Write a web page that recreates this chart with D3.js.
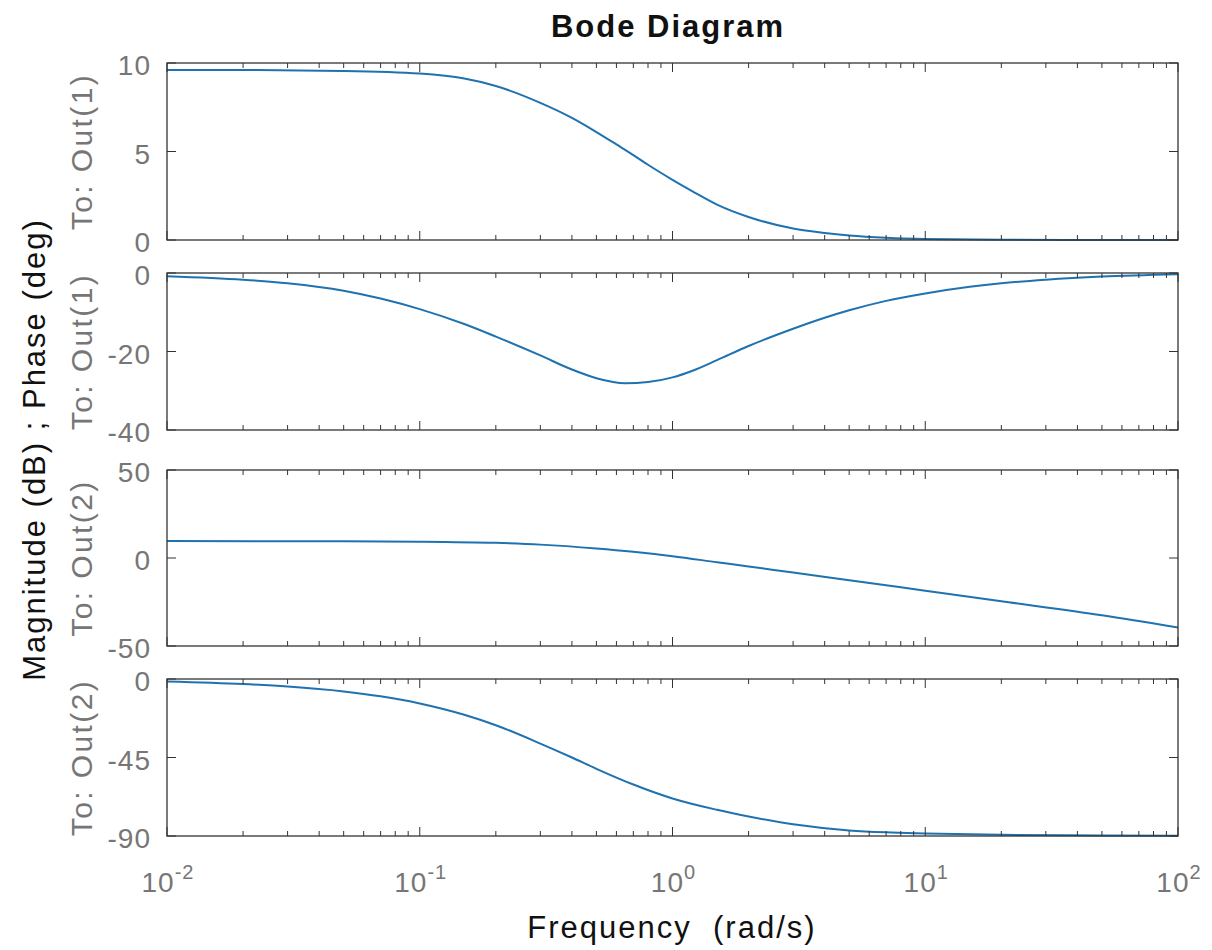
<!DOCTYPE html>
<html>
<head>
<meta charset="utf-8">
<script src="https://cdn.jsdelivr.net/npm/d3@7"></script>
<style>
  body { margin: 0; background: #fff; }
  svg { font-family: "Liberation Sans", Arial, sans-serif; }
</style>
</head>
<body>
<svg id="chart" width="1212" height="950"></svg>
<script>
// frequencies (rad/s) and values
const freqMag1 = [0.01, 0.02, 0.05, 0.1, 0.15, 0.2, 0.3, 0.4, 0.5, 0.6, 0.7, 0.8, 1.0, 1.2, 1.5, 2, 3, 4, 5, 7, 10, 20, 50, 100];
const mag1     = [9.6, 9.6, 9.55, 9.4, 9.12, 8.7, 7.75, 6.9, 6.1, 5.4, 4.8, 4.25, 3.4, 2.75, 2.0, 1.3, 0.65, 0.4, 0.26, 0.13, 0.06, 0.02, 0.0, 0.0];

const freqPh1 = [0.01, 0.02, 0.03, 0.05, 0.07, 0.1, 0.15, 0.2, 0.3, 0.4, 0.5, 0.65, 0.8, 1.0, 1.2, 1.5, 2, 3, 4, 5, 7, 10, 15, 20, 30, 50, 100];
const phase1  = [-0.8, -1.7, -2.6, -4.5, -6.5, -9.2, -13.0, -16.2, -21.0, -24.6, -26.8, -28.1, -27.8, -26.6, -24.9, -22.2, -18.6, -14.2, -11.4, -9.5, -7.1, -5.2, -3.5, -2.6, -1.7, -0.9, -0.3];

const freqMag2 = [0.01, 0.05, 0.1, 0.2, 0.3, 0.5, 0.7, 1.0, 1.5, 2, 3, 5, 10, 20, 50, 100];
const mag2     = [9.6, 9.5, 9.3, 8.6, 7.6, 5.4, 3.5, 1.0, -2.4, -4.8, -8.3, -12.6, -18.6, -24.6, -32.5, -39.5];

const freqPh2 = [0.01, 0.02, 0.03, 0.05, 0.07, 0.1, 0.15, 0.2, 0.3, 0.4, 0.5, 0.7, 1.0, 1.5, 2, 3, 5, 7, 10, 20, 50, 100];
const phase2  = [-1.4, -2.9, -4.3, -7.1, -9.9, -14, -20.5, -26.5, -37, -45, -51.5, -60.5, -68.5, -75.0, -78.8, -83.3, -86.8, -87.9, -88.5, -89.3, -89.7, -89.85];

const xTickExps = [-2, -1, 0, 1, 2];

const panels = [
  { freq: freqMag1, vals: mag1,   domain: [0, 10],    ticks: [0, 5, 10],     label: "To: Out(1)", top: 63,  bottom: 240 },
  { freq: freqPh1,  vals: phase1, domain: [-40, 0],   ticks: [-40, -20, 0],  label: "To: Out(1)", top: 273, bottom: 430 },
  { freq: freqMag2, vals: mag2,   domain: [-50, 50],  ticks: [-50, 0, 50],   label: "To: Out(2)", top: 470, bottom: 646 },
  { freq: freqPh2,  vals: phase2, domain: [-90, 0],   ticks: [-90, -45, 0],  label: "To: Out(2)", top: 679, bottom: 836 }
];

const left = 167, right = 1178;
const axisColor = "#333", labelColor = "#767676", lineColor = "#1f72b0";

const svg = d3.select("#chart");
const x = d3.scaleLog().domain([0.01, 100]).range([left, right]);

// major + minor tick values on the log axis
const minorTicks = [];
for (let e = -2; e < 2; e++) {
  for (let m = 2; m <= 9; m++) minorTicks.push(m * Math.pow(10, e));
}
const majorTicks = xTickExps.map(e => Math.pow(10, e));

panels.forEach((p, i) => {
  const y = d3.scaleLinear().domain(p.domain).range([p.bottom, p.top]);
  const g = svg.append("g");

  const clipId = "clip" + i;
  svg.append("clipPath").attr("id", clipId)
    .append("rect")
    .attr("x", left).attr("y", p.top - 1)
    .attr("width", right - left).attr("height", p.bottom - p.top + 2);

  // curve
  const line = d3.line()
    .x((d, k) => x(p.freq[k]))
    .y(d => y(d))
    .curve(d3.curveMonotoneX);

  g.append("path")
    .datum(p.vals)
    .attr("clip-path", `url(#${clipId})`)
    .attr("fill", "none")
    .attr("stroke", lineColor)
    .attr("stroke-width", 2)
    .attr("d", line);

  // box
  g.append("rect")
    .attr("x", left).attr("y", p.top)
    .attr("width", right - left).attr("height", p.bottom - p.top)
    .attr("fill", "none")
    .attr("stroke", axisColor)
    .attr("stroke-width", 1.3);

  // x ticks, inward on top and bottom
  const xt = majorTicks.map(v => ({ v, len: 9 })).concat(minorTicks.map(v => ({ v, len: 5 })));
  xt.forEach(t => {
    const xx = x(t.v);
    g.append("line").attr("x1", xx).attr("x2", xx)
      .attr("y1", p.bottom).attr("y2", p.bottom - t.len)
      .attr("stroke", axisColor).attr("stroke-width", 1);
    g.append("line").attr("x1", xx).attr("x2", xx)
      .attr("y1", p.top).attr("y2", p.top + t.len)
      .attr("stroke", axisColor).attr("stroke-width", 1);
  });

  // y ticks, inward on left and right, with labels on the left
  p.ticks.forEach(v => {
    const yy = y(v);
    g.append("line").attr("x1", left).attr("x2", left + 9)
      .attr("y1", yy).attr("y2", yy)
      .attr("stroke", axisColor).attr("stroke-width", 1);
    g.append("line").attr("x1", right).attr("x2", right - 9)
      .attr("y1", yy).attr("y2", yy)
      .attr("stroke", axisColor).attr("stroke-width", 1);
    g.append("text")
      .attr("x", 151).attr("y", yy + 12)
      .attr("text-anchor", "end")
      .attr("font-size", 28)
      .attr("letter-spacing", 1)
      .attr("fill", labelColor)
      .text(v);
  });

  // output label
  const cy = (p.top + p.bottom) / 2;
  g.append("text")
    .attr("transform", `translate(92,${cy}) rotate(-90)`)
    .attr("text-anchor", "middle")
    .attr("font-size", 30)
    .attr("letter-spacing", 2.4)
    .attr("fill", labelColor)
    .text(p.label);
});

// x tick labels 10^n
const lastBottom = panels[panels.length - 1].bottom;
xTickExps.forEach(e => {
  const t = svg.append("text")
    .attr("x", x(Math.pow(10, e)) + 1)
    .attr("y", lastBottom + 56)
    .attr("text-anchor", "middle")
    .attr("font-size", 28)
    .attr("letter-spacing", 1)
    .attr("fill", labelColor);
  t.append("tspan").text("10");
  t.append("tspan").attr("dy", -13).attr("font-size", 20).text(e);
});

// titles
svg.append("text")
  .attr("x", 668).attr("y", 37)
  .attr("text-anchor", "middle")
  .attr("font-size", 31)
  .attr("font-weight", "bold")
  .attr("letter-spacing", 2)
  .attr("fill", "#111")
  .text("Bode Diagram");

svg.append("text")
  .attr("x", 672).attr("y", 938)
  .attr("text-anchor", "middle")
  .attr("font-size", 31)
  .attr("letter-spacing", 2)
  .attr("fill", "#111")
  .attr("xml:space", "preserve")
  .text("Frequency  (rad/s)");

svg.append("text")
  .attr("transform", `translate(45,${(panels[0].top + lastBottom) / 2}) rotate(-90)`)
  .attr("text-anchor", "middle")
  .attr("font-size", 31)
  .attr("letter-spacing", 2)
  .attr("fill", "#111")
  .attr("xml:space", "preserve")
  .text("Magnitude (dB) ; Phase (deg)");
</script>
</body>
</html>
